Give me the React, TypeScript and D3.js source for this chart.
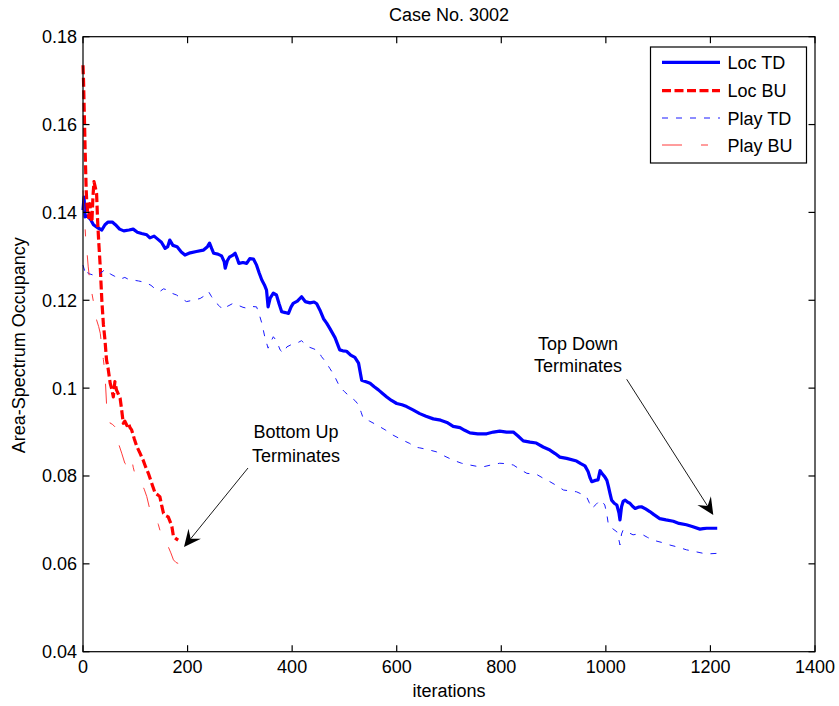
import React, { useEffect, useRef } from "react";
import * as d3 from "d3";

// Iteration / occupancy pairs for each run
const locTD: [number, number][] = [
  [0,0.1405],[2,0.1435],[4,0.139],[8,0.1392],[14,0.1385],[20,0.1372],[28,0.1365],[36,0.136],[42,0.1372],[48,0.1378],
  [56,0.1378],[62,0.1372],[70,0.1362],[78,0.1358],[88,0.136],[96,0.1362],[104,0.1355],[112,0.1352],[122,0.1349],[128,0.1342],
  [136,0.1346],[144,0.1338],[150,0.1332],[157,0.1318],[162,0.1322],[166,0.1337],[172,0.1325],[180,0.1322],[188,0.131],[195,0.1303],
  [205,0.1308],[217,0.1311],[230,0.1314],[238,0.1322],[242,0.133],[246,0.1318],[250,0.1307],[258,0.1305],[265,0.1301],[270,0.1288],
  [272,0.1273],[276,0.129],[280,0.1298],[286,0.1302],[291,0.1307],[295,0.1295],[298,0.1284],[306,0.1286],[313,0.1284],[319,0.1295],
  [326,0.1294],[332,0.128],[337,0.1262],[342,0.1246],[347,0.1235],[351,0.1223],[354,0.1185],[358,0.1205],[364,0.1216],[370,0.1212],
  [375,0.1192],[380,0.1174],[387,0.1172],[393,0.117],[398,0.1185],[402,0.1193],[410,0.1198],[418,0.1208],[425,0.1197],[434,0.1194],
  [442,0.1196],[447,0.1192],[453,0.1178],[460,0.1158],[466,0.1148],[472,0.1136],[482,0.1115],[491,0.1087],[497,0.1085],[504,0.1084],
  [512,0.1075],[520,0.107],[527,0.1057],[533,0.1018],[540,0.1015],[549,0.1011],[557,0.1003],[565,0.0996],[573,0.0988],[581,0.098],
  [590,0.0972],[600,0.0965],[610,0.0962],[619,0.0958],[632,0.095],[644,0.0942],[656,0.0936],[670,0.093],[684,0.0927],[696,0.0922],
  [708,0.0913],[721,0.091],[730,0.0904],[740,0.0898],[755,0.0896],[772,0.0896],[785,0.09],[797,0.0902],[810,0.09],[823,0.09],
  [832,0.0891],[842,0.088],[855,0.0877],[867,0.0875],[880,0.0866],[893,0.0859],[903,0.0851],[912,0.0843],[925,0.084],[944,0.0834],
  [952,0.0828],[960,0.0823],[966,0.081],[970,0.0795],[973,0.0787],[980,0.079],[985,0.0791],[989,0.0812],[993,0.0805],[998,0.0798],
  [1002,0.079],[1005,0.0776],[1008,0.076],[1011,0.0745],[1016,0.0738],[1021,0.0734],[1025,0.0716],[1027,0.07],[1030,0.073],[1033,0.0742],
  [1037,0.0745],[1042,0.074],[1046,0.0738],[1051,0.0731],[1056,0.0726],[1062,0.0729],[1068,0.073],[1076,0.0725],[1084,0.0719],[1092,0.0712],
  [1103,0.0703],[1115,0.07],[1129,0.0697],[1140,0.0692],[1154,0.0689],[1165,0.0685],[1180,0.0679],[1186,0.068],[1193,0.0681],[1213,0.0681],
];

const locBU: [number, number][] = [
  [0,0.1735],[1,0.17],[2,0.165],[3,0.16],[4,0.1545],[5,0.15],[6,0.1455],[7,0.1428],[9,0.1398],[11,0.1388],
  [13,0.142],[15,0.1395],[17,0.1378],[19,0.1435],[21,0.147],[23,0.146],[26,0.1443],[28,0.138],[30,0.1335],[33,0.1276],
  [36,0.12],[39,0.1145],[42,0.111],[45,0.1064],[48,0.1045],[52,0.1011],[55,0.0998],[58,0.098],[61,0.1015],[64,0.0996],
  [68,0.0985],[71,0.0977],[74,0.095],[77,0.092],[80,0.0925],[84,0.0915],[87,0.092],[90,0.091],[93,0.0905],[98,0.0885],
  [103,0.0867],[109,0.0852],[115,0.0836],[120,0.082],[125,0.0806],[131,0.0785],[138,0.0761],[143,0.0757],[147,0.0753],[151,0.073],
  [154,0.0715],[158,0.071],[163,0.0707],[167,0.0695],[170,0.0685],[173,0.0662],[177,0.0658],[182,0.0654],
];

const playTD: [number, number][] = [
  [0,0.128],[3,0.1268],[6,0.1275],[10,0.1261],[18,0.1258],[26,0.1254],[34,0.1262],[40,0.1268],[45,0.127],[52,0.126],
  [60,0.1255],[71,0.1248],[80,0.1252],[88,0.1247],[96,0.1246],[106,0.1244],[114,0.1242],[122,0.1239],[130,0.1234],[140,0.1224],
  [147,0.122],[154,0.1226],[160,0.1224],[170,0.1216],[179,0.1212],[188,0.1204],[198,0.1197],[210,0.12],[224,0.1204],[232,0.121],
  [240,0.122],[246,0.1208],[252,0.1197],[260,0.1188],[268,0.1178],[276,0.1186],[287,0.1193],[298,0.1188],[306,0.1184],[313,0.1182],
  [322,0.1186],[332,0.1185],[337,0.1168],[342,0.1148],[348,0.1115],[354,0.1091],[359,0.1105],[364,0.1117],[370,0.1108],[377,0.1087],
  [383,0.108],[390,0.1094],[400,0.11],[410,0.1103],[418,0.1108],[425,0.11],[431,0.1094],[440,0.109],[450,0.1085],[456,0.1072],
  [464,0.106],[472,0.1045],[480,0.103],[491,0.1003],[500,0.0992],[511,0.098],[520,0.0972],[527,0.0962],[532,0.0945],[536,0.0931],
  [548,0.0925],[562,0.0916],[578,0.0905],[593,0.0893],[609,0.0883],[625,0.0874],[634,0.0866],[644,0.0864],[660,0.086],[676,0.0855],
  [692,0.0845],[708,0.0836],[724,0.0829],[740,0.0825],[753,0.0822],[766,0.0821],[780,0.0825],[797,0.0829],[810,0.0828],[823,0.0825],
  [836,0.0815],[849,0.0806],[858,0.0805],[867,0.0804],[880,0.0795],[893,0.0787],[906,0.0778],[919,0.0768],[932,0.0766],[944,0.0764],
  [955,0.0758],[963,0.0753],[968,0.074],[973,0.0726],[981,0.0735],[989,0.0745],[994,0.074],[998,0.0734],[1002,0.0712],[1005,0.0688],
  [1013,0.068],[1021,0.0673],[1024,0.066],[1027,0.0643],[1030,0.0668],[1033,0.0677],[1042,0.0672],[1052,0.0666],[1061,0.0668],[1071,0.0666],
  [1080,0.066],[1090,0.0654],[1106,0.0649],[1122,0.0643],[1138,0.0638],[1154,0.0632],[1170,0.0628],[1186,0.0624],[1200,0.0623],[1215,0.0624],
];

const playBU: [number, number][] = [
  [0,0.145],[2,0.14],[4,0.1365],[6,0.1322],[8,0.1305],[10,0.1276],[13,0.1245],[17,0.1216],[21,0.119],[26,0.1155],
  [30,0.114],[33,0.1125],[36,0.1094],[39,0.1065],[42,0.1034],[45,0.0965],[48,0.094],[52,0.092],[56,0.0918],[61,0.0912],
  [64,0.0889],[69,0.087],[74,0.0852],[80,0.0829],[84,0.0825],[87,0.0821],[90,0.083],[93,0.084],[96,0.082],[99,0.0806],
  [105,0.0795],[112,0.0783],[117,0.077],[122,0.0753],[128,0.0723],[134,0.0712],[141,0.07],[144,0.069],[147,0.0677],[152,0.0665],
  [157,0.0654],[163,0.0639],[168,0.0625],[173,0.0609],[178,0.0603],[182,0.0601],
];

const seriesNames = ["Loc TD", "Loc BU", "Play TD", "Play BU"];
const xTicks = [0, 200, 400, 600, 800, 1000, 1200, 1400];
const yTicks = [0.04, 0.06, 0.08, 0.1, 0.12, 0.14, 0.16, 0.18];
const yTickLabels = ["0.04", "0.06", "0.08", "0.1", "0.12", "0.14", "0.16", "0.18"];

const W = 839;
const H = 706;
const left = 83;
const right = 815;
const top = 36.7;
const bottom = 651.7;
const FONT = "'Liberation Sans', Arial, Helvetica, sans-serif";

type Style = { color: string; width: number; dash: string | null };
const styles: Style[] = [
  { color: "#0000ff", width: 3.2, dash: null },
  { color: "#ff0000", width: 3.2, dash: "9,3.5" },
  { color: "#1a1aff", width: 1, dash: "6,8" },
  { color: "#ff3a3a", width: 1, dash: "20,19,7,19" },
];

export default function App() {
  const ref = useRef<SVGSVGElement | null>(null);

  useEffect(() => {
    const svg = d3.select(ref.current);
    svg.selectAll("*").remove();

    const x = d3.scaleLinear().domain([0, 1400]).range([left, right]);
    const y = d3.scaleLinear().domain([0.04, 0.18]).range([bottom, top]);

    svg.append("rect").attr("width", W).attr("height", H).attr("fill", "#fff");

    const plot = svg.append("g");
    const line = d3
      .line<[number, number]>()
      .x((d) => x(d[0]))
      .y((d) => y(d[1]));

    const data = [locTD, locBU, playTD, playBU];
    data.forEach((series, i) => {
      const s = styles[i];
      plot
        .append("path")
        .attr("d", line(series) as string)
        .attr("fill", "none")
        .attr("stroke", s.color)
        .attr("stroke-width", s.width)
        .attr("stroke-linejoin", "round")
        .attr("stroke-dasharray", s.dash ?? null);
    });

    // Axes frame with inward ticks on all sides
    const axes = svg.append("g").attr("stroke", "#000").attr("stroke-width", 1.2);
    axes
      .append("rect")
      .attr("x", left)
      .attr("y", top)
      .attr("width", right - left)
      .attr("height", bottom - top)
      .attr("fill", "none");
    const tl = 6.5;
    xTicks.forEach((t) => {
      axes.append("line").attr("x1", x(t)).attr("x2", x(t)).attr("y1", bottom).attr("y2", bottom - tl);
      axes.append("line").attr("x1", x(t)).attr("x2", x(t)).attr("y1", top).attr("y2", top + tl);
    });
    yTicks.forEach((t) => {
      axes.append("line").attr("x1", left).attr("x2", left + tl).attr("y1", y(t)).attr("y2", y(t));
      axes.append("line").attr("x1", right).attr("x2", right - tl).attr("y1", y(t)).attr("y2", y(t));
    });

    const text = svg.append("g").attr("font-family", FONT).attr("font-size", 18).attr("fill", "#000");
    xTicks.forEach((t) => {
      text.append("text").attr("x", x(t)).attr("y", 673).attr("text-anchor", "middle").text(String(t));
    });
    yTicks.forEach((t, i) => {
      text
        .append("text")
        .attr("x", 77)
        .attr("y", y(t) + 6.5)
        .attr("text-anchor", "end")
        .text(yTickLabels[i]);
    });

    text.append("text").attr("x", (left + right) / 2).attr("y", 20.5).attr("text-anchor", "middle").text("Case No. 3002");
    text.append("text").attr("x", (left + right) / 2).attr("y", 697).attr("text-anchor", "middle").text("iterations");
    text
      .append("text")
      .attr("transform", `translate(24.5, ${(top + bottom) / 2 + 1}) rotate(-90)`)
      .attr("text-anchor", "middle")
      .text("Area-Spectrum Occupancy");

    // Annotations
    const annot = (lines: string[], cx: number, baselines: number[]) => {
      lines.forEach((l, i) => {
        text.append("text").attr("x", cx).attr("y", baselines[i]).attr("text-anchor", "middle").text(l);
      });
    };
    annot(["Bottom Up", "Terminates"], 296, [438, 462]);
    annot(["Top Down", "Terminates"], 578, [350, 372]);

    const arrow = (x1: number, y1: number, x2: number, y2: number) => {
      const dx = x2 - x1;
      const dy = y2 - y1;
      const len = Math.hypot(dx, dy);
      const ux = dx / len;
      const uy = dy / len;
      const px = -uy;
      const py = ux;
      const L = 17;
      const Wd = 8;
      const bx = x2 - ux * L;
      const by = y2 - uy * L;
      const nx = x2 - ux * L * 0.62;
      const ny = y2 - uy * L * 0.62;
      svg
        .append("line")
        .attr("x1", x1)
        .attr("y1", y1)
        .attr("x2", nx)
        .attr("y2", ny)
        .attr("stroke", "#000")
        .attr("stroke-width", 0.9);
      svg
        .append("path")
        .attr(
          "d",
          `M${x2},${y2} L${bx + px * Wd},${by + py * Wd} L${nx},${ny} L${bx - px * Wd},${by - py * Wd} Z`
        )
        .attr("fill", "#000");
    };
    arrow(248, 468, 184, 547);
    arrow(626.7, 379.3, 713.3, 515);

    // Legend
    const lg = svg.append("g");
    lg.append("rect")
      .attr("x", 650.5)
      .attr("y", 47)
      .attr("width", 156)
      .attr("height", 116)
      .attr("fill", "#fff")
      .attr("stroke", "#000")
      .attr("stroke-width", 1.2);
    const rowY = [62.3, 90.7, 118, 145];
    seriesNames.forEach((name, i) => {
      const s = styles[i];
      lg.append("line")
        .attr("x1", 662)
        .attr("x2", 720)
        .attr("y1", rowY[i])
        .attr("y2", rowY[i])
        .attr("stroke", s.color)
        .attr("stroke-width", s.width)
        .attr("stroke-dasharray", s.dash ?? null);
      lg.append("text")
        .attr("x", 727.5)
        .attr("y", rowY[i] + 6.5)
        .attr("font-family", FONT)
        .attr("font-size", 18)
        .text(name);
    });
  }, []);

  return (
    <div style={{ position: "absolute", left: 0, top: 0 }}>
      <svg ref={ref} width={W} height={H} style={{ display: "block" }} />
    </div>
  );
}
